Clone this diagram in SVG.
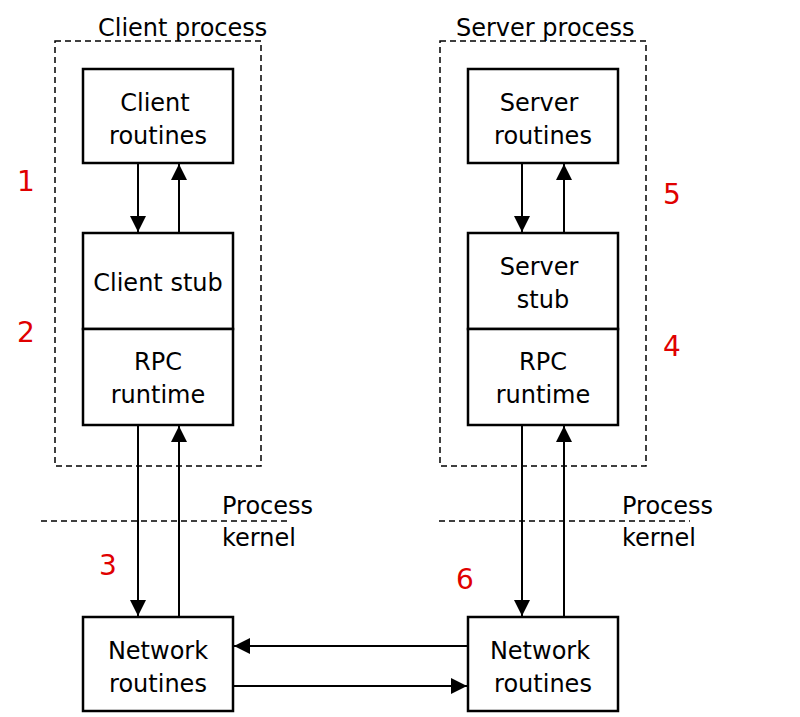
<svg xmlns="http://www.w3.org/2000/svg" width="800" height="717" viewBox="0 0 800 717">
<style>
.box{fill:#fff;stroke:#000;stroke-width:2.5}
.dash{fill:none;stroke:#000;stroke-width:1.5;stroke-dasharray:6 4}
.ln{stroke:#000;stroke-width:2;fill:none}
.t{font-family:"DejaVu Sans",sans-serif;font-size:24px;fill:#000;text-anchor:middle}
.tl{font-family:"DejaVu Sans",sans-serif;font-size:24px;fill:#000}
.n{font-family:"DejaVu Sans",sans-serif;font-size:28px;fill:#e00000;text-anchor:middle}
</style>
<defs>
<marker id="ah" viewBox="0 0 16 16" refX="16" refY="8" markerWidth="16" markerHeight="16" markerUnits="userSpaceOnUse" orient="auto">
<path d="M0,0 L16,8 L0,16 Z" fill="#000"/>
</marker>
</defs>
<rect fill="#fff" width="800" height="717"/>
<g id="client-process">
<rect class="dash" x="55" y="41" width="206" height="425"/>
<text class="tl" x="98" y="36">Client process</text>
</g>
<g id="server-process">
<rect class="dash" x="440" y="41" width="206" height="425"/>
<text class="tl" x="456" y="36">Server process</text>
</g>
<g id="boundary">
<line class="dash" x1="41" y1="521" x2="290" y2="521"/>
<line class="dash" x1="439" y1="521" x2="690" y2="521"/>
<text class="tl" x="222" y="514">Process</text>
<text class="tl" x="222" y="546">kernel</text>
<text class="tl" x="622" y="514">Process</text>
<text class="tl" x="622" y="546">kernel</text>
</g>
<g id="client-routines">
<rect class="box" x="83" y="69" width="150" height="94"/>
<text class="t" x="155" y="111">Client</text>
<text class="t" x="158" y="144">routines</text>
</g>
<g id="client-stub">
<rect class="box" x="83" y="233" width="150" height="96"/>
<text class="t" x="158" y="291">Client stub</text>
</g>
<g id="client-rpc">
<rect class="box" x="83" y="329" width="150" height="96"/>
<text class="t" x="158" y="370">RPC</text>
<text class="t" x="158" y="403">runtime</text>
</g>
<g id="server-routines">
<rect class="box" x="468" y="69" width="150" height="94"/>
<text class="t" x="539" y="111">Server</text>
<text class="t" x="543" y="144">routines</text>
</g>
<g id="server-stub">
<rect class="box" x="468" y="233" width="150" height="96"/>
<text class="t" x="539" y="275">Server</text>
<text class="t" x="543" y="308">stub</text>
</g>
<g id="server-rpc">
<rect class="box" x="468" y="329" width="150" height="96"/>
<text class="t" x="543" y="370">RPC</text>
<text class="t" x="543" y="403">runtime</text>
</g>
<g id="client-network">
<rect class="box" x="83" y="617" width="150" height="94"/>
<text class="t" x="158" y="659">Network</text>
<text class="t" x="158" y="692">routines</text>
</g>
<g id="server-network">
<rect class="box" x="468" y="617" width="150" height="94"/>
<text class="t" x="540" y="659">Network</text>
<text class="t" x="543" y="692">routines</text>
</g>
<g id="connectors">
<line class="ln" x1="138" y1="164" x2="138" y2="232" marker-end="url(#ah)"/>
<line class="ln" x1="179" y1="232" x2="179" y2="164" marker-end="url(#ah)"/>
<line class="ln" x1="138" y1="426" x2="138" y2="616" marker-end="url(#ah)"/>
<line class="ln" x1="179" y1="616" x2="179" y2="426" marker-end="url(#ah)"/>
<line class="ln" x1="522" y1="164" x2="522" y2="232" marker-end="url(#ah)"/>
<line class="ln" x1="564" y1="232" x2="564" y2="164" marker-end="url(#ah)"/>
<line class="ln" x1="522" y1="426" x2="522" y2="616" marker-end="url(#ah)"/>
<line class="ln" x1="564" y1="616" x2="564" y2="426" marker-end="url(#ah)"/>
<line class="ln" x1="467" y1="646" x2="234" y2="646" marker-end="url(#ah)"/>
<line class="ln" x1="234" y1="686" x2="467" y2="686" marker-end="url(#ah)"/>
</g>
<g id="steps">
<text class="n" x="26" y="191">1</text>
<text class="n" x="26" y="342">2</text>
<text class="n" x="108" y="575">3</text>
<text class="n" x="672" y="356">4</text>
<text class="n" x="672" y="204">5</text>
<text class="n" x="465" y="589">6</text>
</g>
</svg>
